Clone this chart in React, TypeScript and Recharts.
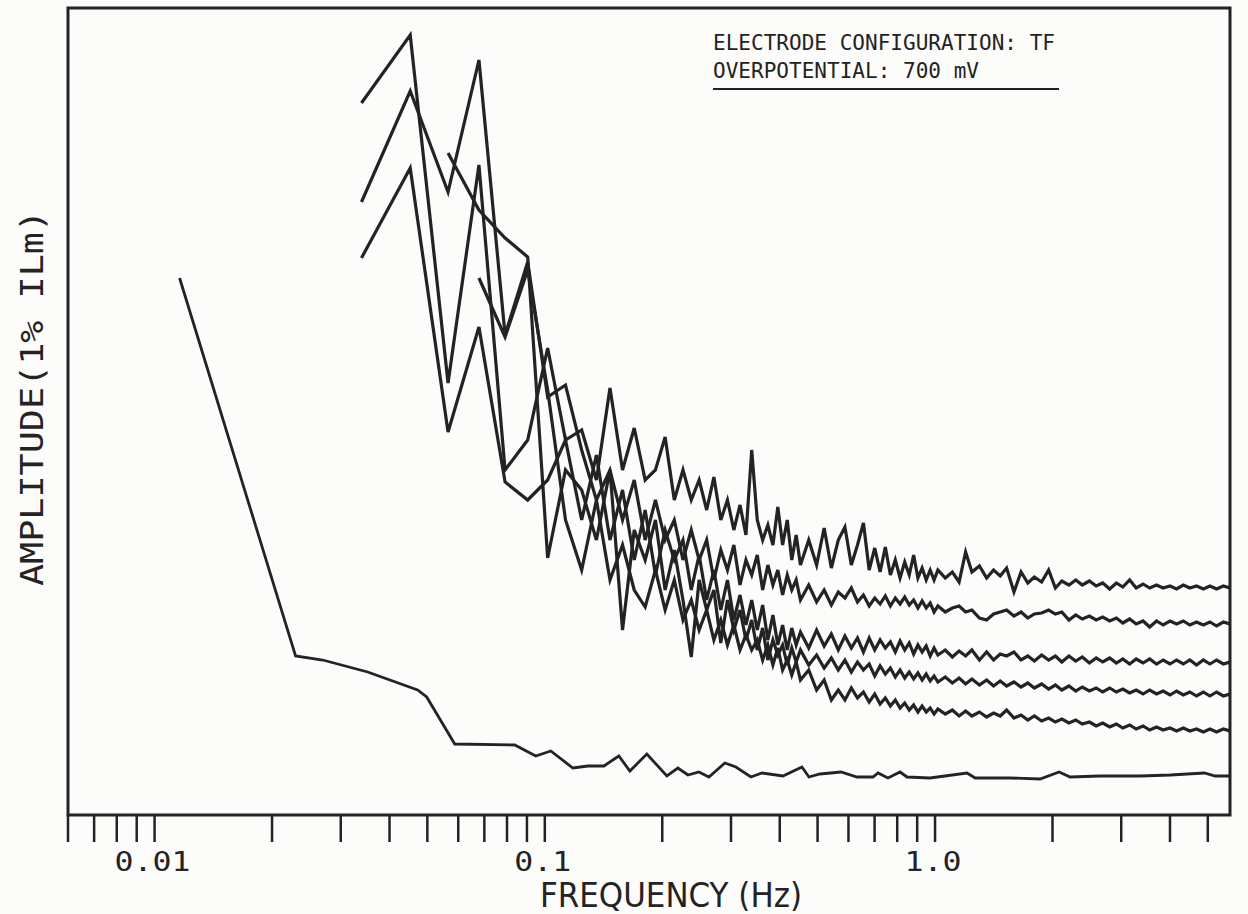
import { Line, LineChart, ReferenceArea, XAxis, YAxis } from "recharts";

// frequency bins (Hz) shared by the five upper spectra
const freqs = [
  0.0339, 0.0452, 0.0565, 0.0678, 0.0791, 0.0904, 0.1017, 0.113, 0.1243, 0.1356,
  0.1469, 0.1582, 0.1695, 0.1808, 0.1921, 0.2034, 0.2147, 0.226, 0.2373, 0.2486,
  0.2599, 0.2712, 0.2825, 0.2938, 0.3051, 0.3164, 0.3277, 0.339, 0.3503, 0.3616,
  0.3729, 0.3842, 0.3955, 0.4068, 0.4181, 0.4294, 0.4407, 0.452,
  0.4746, 0.4972, 0.5198, 0.5424, 0.565, 0.5876, 0.6102, 0.6328, 0.6554, 0.678,
  0.7006, 0.7232, 0.7458, 0.7684, 0.791, 0.8136, 0.8362, 0.8588, 0.8814, 0.904,
  0.9266, 0.9492, 0.9718, 0.9944, 1.017,
  1.0622, 1.1074, 1.1526, 1.1978, 1.243, 1.2995, 1.356, 1.4125, 1.469, 1.5255,
  1.5933, 1.6611, 1.7289, 1.7967, 1.8758, 1.9549, 2.034, 2.1131, 2.2035, 2.2939,
  2.3843, 2.486, 2.5877, 2.6894, 2.8024, 2.9154, 3.0284, 3.1527, 3.277, 3.4126,
  3.5482, 3.6951, 3.842, 4.0002, 4.1584, 4.3279, 4.4974, 4.6782, 4.8703, 5.0624,
  5.2658, 5.4805, 5.6952
];

const spec1 = [
  71.2, 78.0, 43.2, 65.0, 34.5, 37.5, 46.7, 37.5, 38.5, 33.5, 42.7, 34.5, 38.7, 33.5,
  34.5, 37.8, 31.5, 34.5, 31.5, 33.5, 30.5, 33.8, 29.5, 31.5, 28.5, 31.0, 28.0, 36.5,
  29.5, 27.5, 29.0, 27.0, 30.8, 27.0, 29.5, 25.5, 28.0, 25.0,
  27.5, 25.0, 28.7, 24.7, 27.5, 28.8, 25.0, 27.0, 29.2, 24.5, 26.7, 24.3, 26.8, 24.0,
  25.5, 23.7, 25.3, 24.0, 26.0, 23.7, 24.7, 23.5, 24.5, 23.5, 24.5,
  23.7, 24.3, 23.3, 26.3, 24.3, 24.9, 23.7, 24.5, 23.9, 24.7, 22.3, 24.3, 23.2, 23.8,
  23.3, 24.5, 22.7, 23.4, 23.0, 23.5, 23.0, 23.4, 22.9, 23.2, 22.6, 23.2, 22.8, 23.5,
  22.7, 23.1, 22.7, 23.0, 22.7, 22.9, 22.6, 23.0, 22.7, 22.9, 22.6, 22.9, 22.6, 22.9, 22.7
];

const spec2 = [
  61.3, 72.4, 62.3, 75.5, 48.0, 55.3, 41.8, 43.0, 36.5, 31.5, 34.5, 29.5, 33.5, 27.5,
  31.5, 27.5, 29.5, 25.5, 28.5, 25.5, 27.5, 23.5, 26.5, 24.5, 27.0, 23.0, 25.5, 24.0,
  26.0, 22.5, 25.0, 23.0, 24.5, 22.0, 24.0, 22.5, 23.5, 21.5,
  23.0, 21.3, 22.5, 21.0, 22.3, 21.7, 22.7, 21.3, 22.0, 20.9, 21.7, 21.1, 21.9, 20.9,
  21.7, 21.1, 21.8, 21.0, 21.5, 20.7, 21.4, 20.7, 21.2, 20.3, 20.9,
  20.3, 20.7, 20.9, 20.3, 20.5, 19.7, 19.5, 20.1, 20.3, 20.5, 19.9, 20.3, 19.7, 20.1,
  20.2, 20.5, 20.1, 20.3, 19.5, 20.0, 19.6, 19.9, 19.5, 19.8, 19.4, 19.7, 19.2, 19.6,
  19.1, 19.4, 18.8, 19.4, 19.0, 19.4, 19.1, 19.4, 19.0, 19.3, 19.0, 19.3, 18.9, 19.3, 19.1
];

const spec3 = [
  55.7, 64.7, 38.3, 48.8, 33.3, 31.5, 33.5, 37.5, 29.5, 36.0, 27.5, 32.5, 25.5, 30.5,
  24.0, 28.5, 25.5, 27.5, 22.5, 26.0, 21.5, 24.5, 20.5, 23.5, 19.5, 22.0, 19.0, 21.5,
  18.5, 21.0, 17.5, 20.0, 17.0, 19.0, 16.5, 18.7, 17.0, 18.3,
  16.7, 18.5, 16.9, 18.1, 16.5, 17.9, 16.7, 17.7, 16.3, 17.7, 16.5, 17.5, 16.7, 17.3,
  16.3, 17.4, 16.5, 17.2, 16.1, 17.0, 16.3, 16.9, 15.9, 16.7, 16.0,
  16.5, 15.8, 16.4, 15.9, 16.5, 15.5, 16.3, 15.5, 16.1, 15.9, 16.3, 15.5, 15.9, 15.4,
  16.0, 15.5, 15.9, 15.3, 15.9, 15.4, 15.8, 15.2, 15.7, 15.3, 15.7, 15.2, 15.6, 15.1,
  15.6, 15.2, 15.6, 15.1, 15.5, 15.1, 15.5, 15.1, 15.5, 15.0, 15.5, 15.1, 15.5, 15.1, 15.3
];

const spec4 = [
  null, null, 66.2, 60.5, 57.7, 55.8, 25.7, 34.5, 32.5, 27.5, 34.5, 18.5, 28.5, 25.5,
  29.5, 22.5, 26.5, 21.5, 15.8, 23.5, 20.5, 22.5, 17.2, 21.5, 18.5, 20.5, 17.5, 19.5,
  16.5, 18.7, 15.5, 17.5, 16.0, 17.0, 15.0, 16.7, 15.3, 16.5,
  15.0, 16.0, 14.7, 15.7, 14.5, 15.5, 14.3, 15.3, 14.5, 15.1, 13.9, 14.9, 14.1, 14.7,
  13.8, 14.5, 13.7, 14.3, 13.6, 14.2, 13.5, 14.1, 13.4, 13.9, 13.3,
  13.8, 13.2, 13.7, 13.1, 13.6, 13.0, 13.5, 12.9, 13.4, 12.9, 13.3, 12.8, 13.2, 12.7,
  13.1, 12.6, 13.0, 12.5, 12.9, 12.4, 12.8, 12.4, 12.7, 12.3, 12.7, 12.3, 12.6, 12.2,
  12.5, 12.1, 12.5, 12.1, 12.4, 12.0, 12.4, 12.0, 12.3, 11.9, 12.3, 11.9, 12.3, 11.9, 12.1
];

const spec5 = [
  null, null, null, 53.7, 47.8, 54.5, 42.5, 29.5, 24.5, 31.5, 23.5, 27.0, 22.5, 20.8,
  24.5, 20.5, 23.5, 19.5, 21.5, 18.5, 20.5, 17.5, 19.5, 17.0, 19.0, 16.5, 18.0, 16.5,
  17.5, 15.5, 17.0, 15.0, 16.7, 14.5, 15.5, 14.0, 15.3, 13.5,
  14.5, 12.5, 13.5, 11.5, 12.5, 11.5, 12.7, 11.7, 12.3, 11.3, 12.1, 11.1, 11.7, 10.9,
  11.5, 10.7, 11.2, 10.5, 11.0, 10.3, 10.9, 10.3, 10.7, 10.1, 10.6,
  10.1, 10.5, 9.9, 10.4, 9.9, 10.3, 9.8, 10.2, 9.9, 10.5, 9.7, 10.0, 9.5, 9.9,
  9.4, 9.7, 9.3, 9.6, 9.2, 9.5, 9.1, 9.3, 8.9, 9.2, 8.8, 9.1, 8.7, 9.0,
  8.6, 8.9, 8.5, 8.8, 8.5, 8.7, 8.4, 8.7, 8.4, 8.6, 8.3, 8.6, 8.3, 8.6, 8.4
];

// lowest (reference) spectrum, own frequency points
const baseFreqs = [
  0.01159, 0.02298, 0.02697, 0.03516, 0.04722, 0.04981, 0.05878, 0.08375, 0.09482, 0.1036,
  0.118, 0.1289, 0.1417, 0.1548, 0.1652, 0.1826, 0.2055, 0.2193, 0.2327, 0.2483,
  0.2634, 0.2894, 0.3088, 0.3375, 0.3601, 0.4077, 0.456, 0.4752, 0.5071, 0.5741,
  0.631, 0.6934, 0.7142, 0.7575, 0.8135, 0.8477, 0.9705, 1.208, 1.267, 1.557,
  1.858, 2.08, 2.219, 2.649, 3.355, 4.008, 4.898, 5.224, 5.7
];
const baseAmp = [
  53.7, 15.9, 15.5, 14.3, 12.5, 11.8, 7.1, 7.0, 5.9, 6.4,
  4.7, 4.9, 4.9, 5.9, 4.4, 6.1, 3.9, 4.7, 4.0, 4.3,
  3.8, 5.2, 4.8, 3.8, 4.2, 3.9, 4.8, 3.8, 4.1, 4.3,
  3.8, 3.8, 4.2, 3.7, 4.3, 3.8, 3.7, 4.2, 3.7, 3.7,
  3.6, 4.3, 3.8, 3.9, 3.9, 4.0, 4.2, 3.9, 3.9
];

const xTicks = [
  0.006, 0.007, 0.008, 0.009, 0.01, 0.02, 0.03, 0.04, 0.05, 0.06, 0.07, 0.08, 0.09,
  0.1, 0.2, 0.3, 0.4, 0.5, 0.6, 0.7, 0.8, 0.9, 1, 2, 3, 4, 5
];
const tickLabels: Record<string, string> = { "0.01": "0.01", "0.1": "0.1", "1": "1.0" };

const X_MIN = 0.006;
const X_MAX = 5.7;
const Y_MAX = 80.7;

const ink = "#252223";
const paper = "#fcfcfa";

const rows = freqs.map((f, i) => ({
  f,
  s1: spec1[i],
  s2: spec2[i],
  s3: spec3[i],
  s4: spec4[i],
  s5: spec5[i]
}));
const baseRows = baseFreqs.map((f, i) => ({ f, base: baseAmp[i] }));

const FreqTick = (props: any) => {
  const { x, y, payload } = props;
  const label = tickLabels[String(payload.value)];
  if (!label) return <g />;
  return (
    <text
      x={x - 2}
      y={y + 27}
      textAnchor="middle"
      fontFamily="'DejaVu Sans Mono', monospace"
      fontSize={26}
      fill={ink}
      textLength={label.length * 19}
      lengthAdjust="spacingAndGlyphs"
    >
      {label}
    </text>
  );
};

const seriesKeys = ["s1", "s2", "s3", "s4", "s5"];

export default function App() {
  return (
    <div style={{ position: "absolute", left: 0, top: 0, width: 1248, height: 914, background: paper }}>
      <LineChart
        width={1248}
        height={914}
        data={rows}
        margin={{ top: 8, right: 18, bottom: 39, left: 68 }}
      >
        <XAxis
          dataKey="f"
          type="number"
          scale="log"
          domain={[X_MIN, X_MAX]}
          allowDataOverflow
          ticks={xTicks}
          interval={0}
          height={60}
          axisLine={false}
          tickSize={27}
          tickLine={{ stroke: ink, strokeWidth: 2.5 }}
          tick={FreqTick}
        />
        <YAxis hide type="number" domain={[0, Y_MAX]} allowDataOverflow />
        <ReferenceArea
          x1={X_MIN}
          x2={X_MAX}
          y1={0}
          y2={Y_MAX}
          fill="none"
          stroke={ink}
          strokeWidth={3}
          ifOverflow="visible"
        />
        <Line
          data={baseRows}
          dataKey="base"
          type="linear"
          stroke={ink}
          strokeWidth={2.8}
          dot={false}
          activeDot={false}
          isAnimationActive={false}
        />
        {seriesKeys.map((k) => (
          <Line
            key={k}
            dataKey={k}
            type="linear"
            stroke={ink}
            strokeWidth={3.2}
            dot={false}
            activeDot={false}
            isAnimationActive={false}
          />
        ))}
      </LineChart>
      <svg
        width={1248}
        height={914}
        style={{ position: "absolute", left: 0, top: 0, pointerEvents: "none" }}
      >
        <text
          x={671}
          y={907}
          textAnchor="middle"
          fontFamily="'DejaVu Sans', sans-serif"
          fontSize={33}
          fill={ink}
          textLength={262}
          lengthAdjust="spacingAndGlyphs"
        >
          FREQUENCY (Hz)
        </text>
        <text
          transform="translate(43, 398) rotate(-90)"
          textAnchor="middle"
          fontFamily="'DejaVu Sans Mono', monospace"
          fontSize={32}
          fill={ink}
          textLength={376}
          lengthAdjust="spacingAndGlyphs"
        >
          AMPLITUDE(1% ILm)
        </text>
        <text
          x={713}
          y={50}
          fontFamily="'DejaVu Sans Mono', monospace"
          fontSize={22}
          fill={ink}
          textLength={342}
          lengthAdjust="spacingAndGlyphs"
        >
          ELECTRODE CONFIGURATION: TF
        </text>
        <text
          x={713}
          y={78}
          fontFamily="'DejaVu Sans Mono', monospace"
          fontSize={22}
          fill={ink}
          textLength={266}
          lengthAdjust="spacingAndGlyphs"
        >
          OVERPOTENTIAL: 700 mV
        </text>
        <line x1={713} y1={89} x2={1059} y2={89} stroke={ink} strokeWidth={2} />
      </svg>
    </div>
  );
}
